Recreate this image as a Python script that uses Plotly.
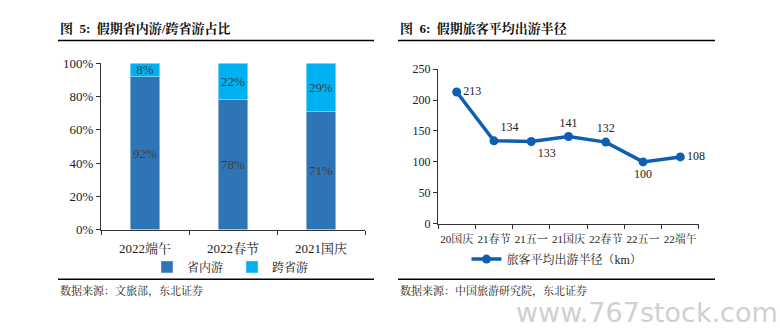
import plotly.graph_objects as go

# Left chart data
cats_left = ["2022端午", "2022春节", "2021国庆"]
in_prov = [0.92, 0.78, 0.71]
cross_prov = [0.08, 0.22, 0.29]
in_labels = ["92%", "78%", "71%"]
cross_labels = ["8%", "22%", "29%"]

# Right chart data
cats_right = ["20国庆", "21春节", "21五一", "21国庆", "22春节", "22五一", "22端午"]
radius = [213, 134, 133, 141, 132, 100, 108]
label_pos = ["middle right", "top right", "bottom right", "top center", "top center", "bottom center", "middle right"]

W, H = 780, 333
SERIF = "Liberation Serif, Times New Roman, Noto Serif CJK SC, Noto Sans CJK SC, serif"
TXT = "#222222"

def px(x):
    return x / W

def py(y):
    return 1 - y / H

fig = go.Figure()

for vals, labs, name, col in [(in_prov, in_labels, "省内游", "#2E75B6"),
                              (cross_prov, cross_labels, "跨省游", "#00B0F0")]:
    fig.add_trace(go.Bar(
        x=cats_left, y=vals, name=name, marker_color=col,
        text=labs, textposition="inside", insidetextanchor="middle",
        textangle=0, constraintext="none",
        textfont=dict(family=SERIF, size=13, color="#404040"),
        width=0.33, xaxis="x", yaxis="y", legend="legend",
    ))

fig.add_trace(go.Scatter(
    x=cats_right, y=radius, name="旅客平均出游半径（km）",
    mode="lines+markers+text", text=[str(v) for v in radius],
    textposition=label_pos, cliponaxis=False,
    textfont=dict(family=SERIF, size=12, color=TXT),
    line=dict(color="#0E5FB0", width=3.5),
    marker=dict(color="#0E5FB0", size=9),
    xaxis="x2", yaxis="y2", legend="legend2",
))

def axis_common(size):
    return dict(
        showgrid=False, zeroline=False, showline=True, linecolor="#333333", linewidth=1,
        ticks="outside", ticklen=4, tickcolor="#333333",
        tickfont=dict(family=SERIF, size=size, color=TXT),
    )

fig.update_layout(
    width=W, height=H, margin=dict(l=0, r=0, t=0, b=0),
    paper_bgcolor="white", plot_bgcolor="white",
    barmode="stack",
    xaxis=dict(domain=[px(101), px(365)], anchor="y", tickson="boundaries", tickangle=0,
               ticklabelstandoff=7, **axis_common(13)),
    yaxis=dict(domain=[py(233), py(59)], anchor="x", range=[0, 1], tickformat=".0%",
               dtick=0.2, **axis_common(13)),
    xaxis2=dict(domain=[px(438), px(699)], anchor="y2", tickson="boundaries", tickangle=0,
                ticklabelstandoff=5, **axis_common(11)),
    yaxis2=dict(domain=[py(227), py(65)], anchor="x2", range=[0, 250], dtick=50,
                **axis_common(12)),
    legend=dict(orientation="h", x=px(232), xanchor="center", y=py(257), yanchor="top",
                font=dict(family=SERIF, size=12, color=TXT), bgcolor="rgba(0,0,0,0)",
                traceorder="normal", itemwidth=30, entrywidth=40),
    legend2=dict(orientation="h", x=px(557), xanchor="center", y=py(264), yanchor="middle",
                 font=dict(family=SERIF, size=12, color=TXT), bgcolor="rgba(0,0,0,0)"),
    showlegend=True,
)

# Titles
fig.add_annotation(text="<b>图  5:  假期省内游/跨省游占比</b>", x=px(58), y=py(23), xref="paper", yref="paper",
                   xanchor="left", yanchor="middle", showarrow=False,
                   font=dict(family=SERIF, size=13, color="#111111"))
fig.add_annotation(text="<b>图  6:  假期旅客平均出游半径</b>", x=px(398), y=py(23), xref="paper", yref="paper",
                   xanchor="left", yanchor="middle", showarrow=False,
                   font=dict(family=SERIF, size=13, color="#111111"))

# Sources
fig.add_annotation(text="数据来源：文旅部，东北证券", x=px(58), y=py(297), xref="paper", yref="paper",
                   xanchor="left", yanchor="middle", showarrow=False,
                   font=dict(family=SERIF, size=11, color=TXT))
fig.add_annotation(text="数据来源：中国旅游研究院，东北证券", x=px(398), y=py(297), xref="paper", yref="paper",
                   xanchor="left", yanchor="middle", showarrow=False,
                   font=dict(family=SERIF, size=11, color=TXT))

# Watermark
fig.add_annotation(text="www.767stock.com", x=px(780), y=py(320), xref="paper", yref="paper",
                   xanchor="right", yanchor="middle", showarrow=False,
                   font=dict(family="DejaVu Sans, sans-serif", size=27, color="#d0d0d0"))

# Rule lines
for x0, x1 in [(58, 374), (398, 715)]:
    for yy in (35, 285):
        fig.add_shape(type="line", xref="paper", yref="paper",
                      x0=px(x0), x1=px(x1), y0=py(yy), y1=py(yy),
                      line=dict(color="#000000", width=1.5))

fig.write_html("out.html")
